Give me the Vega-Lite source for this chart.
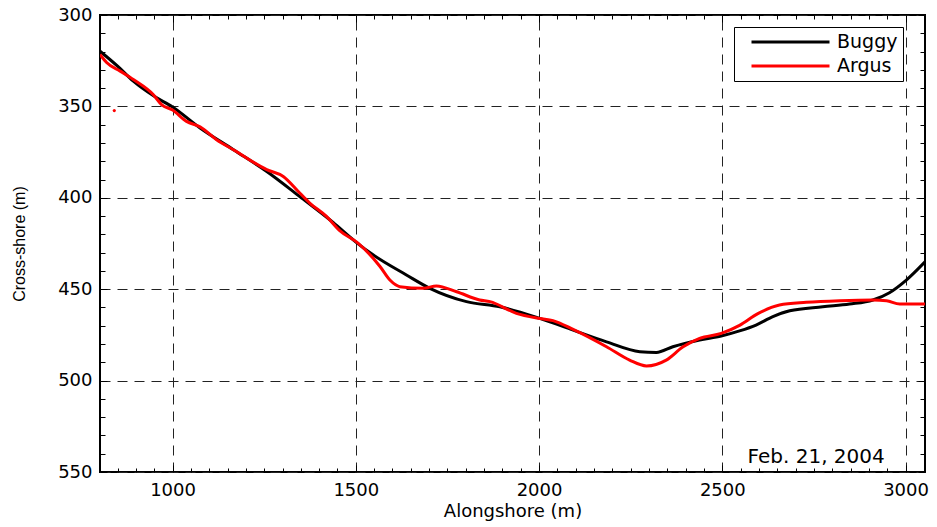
{
  "$schema": "https://vega.github.io/schema/vega-lite/v6.json",
  "width": 825,
  "height": 457,
  "autosize": {"type": "none"},
  "padding": {"left": 100, "top": 15, "right": 12, "bottom": 55},
  "config": {
    "view": {"stroke": "black", "strokeWidth": 2},
    "font": "DejaVu Sans",
    "axis": {"domain": false, "labelColor": "black", "titleColor": "black", "labelFont": "DejaVu Sans", "titleFont": "DejaVu Sans", "titleFontWeight": "normal", "tickColor": "black"}
  },
  "datasets": {
    "lines": [
      {"series": "Buggy", "x": 802, "y": 319.8},
      {"series": "Buggy", "x": 850, "y": 328},
      {"series": "Buggy", "x": 893, "y": 336.2},
      {"series": "Buggy", "x": 950, "y": 344.5},
      {"series": "Buggy", "x": 1000, "y": 350.3},
      {"series": "Buggy", "x": 1075, "y": 361.8},
      {"series": "Buggy", "x": 1166, "y": 373.7},
      {"series": "Buggy", "x": 1257, "y": 385.6},
      {"series": "Buggy", "x": 1347, "y": 399.3},
      {"series": "Buggy", "x": 1438, "y": 413.5},
      {"series": "Buggy", "x": 1502, "y": 424.5},
      {"series": "Buggy", "x": 1547, "y": 431.2},
      {"series": "Buggy", "x": 1638, "y": 442.2},
      {"series": "Buggy", "x": 1702, "y": 449.5},
      {"series": "Buggy", "x": 1802, "y": 456.8},
      {"series": "Buggy", "x": 1893, "y": 459.6},
      {"series": "Buggy", "x": 2002, "y": 466},
      {"series": "Buggy", "x": 2093, "y": 472.4},
      {"series": "Buggy", "x": 2184, "y": 478.8},
      {"series": "Buggy", "x": 2275, "y": 484.2},
      {"series": "Buggy", "x": 2320, "y": 484.6},
      {"series": "Buggy", "x": 2365, "y": 481.5},
      {"series": "Buggy", "x": 2438, "y": 477.8},
      {"series": "Buggy", "x": 2497, "y": 475.6},
      {"series": "Buggy", "x": 2547, "y": 472.8},
      {"series": "Buggy", "x": 2592, "y": 469.6},
      {"series": "Buggy", "x": 2638, "y": 465},
      {"series": "Buggy", "x": 2684, "y": 461.8},
      {"series": "Buggy", "x": 2774, "y": 459.6},
      {"series": "Buggy", "x": 2847, "y": 458.1},
      {"series": "Buggy", "x": 2911, "y": 455.9},
      {"series": "Buggy", "x": 2956, "y": 451.9},
      {"series": "Buggy", "x": 3002, "y": 445},
      {"series": "Buggy", "x": 3053, "y": 435},
      {"series": "Argus", "x": 802, "y": 321.6},
      {"series": "Argus", "x": 820, "y": 326},
      {"series": "Argus", "x": 857, "y": 330.7},
      {"series": "Argus", "x": 893, "y": 335.3},
      {"series": "Argus", "x": 947, "y": 343.5},
      {"series": "Argus", "x": 970, "y": 349},
      {"series": "Argus", "x": 1000, "y": 352},
      {"series": "Argus", "x": 1038, "y": 358.2},
      {"series": "Argus", "x": 1075, "y": 361.2},
      {"series": "Argus", "x": 1120, "y": 368.2},
      {"series": "Argus", "x": 1166, "y": 373.7},
      {"series": "Argus", "x": 1257, "y": 384.6},
      {"series": "Argus", "x": 1302, "y": 388.3},
      {"series": "Argus", "x": 1347, "y": 397.4},
      {"series": "Argus", "x": 1375, "y": 403},
      {"series": "Argus", "x": 1420, "y": 410.2},
      {"series": "Argus", "x": 1456, "y": 418},
      {"series": "Argus", "x": 1506, "y": 424.8},
      {"series": "Argus", "x": 1566, "y": 437.6},
      {"series": "Argus", "x": 1593, "y": 445},
      {"series": "Argus", "x": 1620, "y": 448.6},
      {"series": "Argus", "x": 1684, "y": 449.5},
      {"series": "Argus", "x": 1720, "y": 448.2},
      {"series": "Argus", "x": 1775, "y": 451.4},
      {"series": "Argus", "x": 1838, "y": 455.9},
      {"series": "Argus", "x": 1866, "y": 456.8},
      {"series": "Argus", "x": 1938, "y": 463.2},
      {"series": "Argus", "x": 2002, "y": 466},
      {"series": "Argus", "x": 2038, "y": 467.2},
      {"series": "Argus", "x": 2093, "y": 472},
      {"series": "Argus", "x": 2184, "y": 481.5},
      {"series": "Argus", "x": 2247, "y": 488.8},
      {"series": "Argus", "x": 2293, "y": 492},
      {"series": "Argus", "x": 2347, "y": 488.8},
      {"series": "Argus", "x": 2393, "y": 481.5},
      {"series": "Argus", "x": 2438, "y": 476.9},
      {"series": "Argus", "x": 2497, "y": 474.2},
      {"series": "Argus", "x": 2547, "y": 469.8},
      {"series": "Argus", "x": 2597, "y": 463.4},
      {"series": "Argus", "x": 2656, "y": 458.6},
      {"series": "Argus", "x": 2729, "y": 457.2},
      {"series": "Argus", "x": 2820, "y": 456.3},
      {"series": "Argus", "x": 2911, "y": 455.9},
      {"series": "Argus", "x": 2948, "y": 456.3},
      {"series": "Argus", "x": 2984, "y": 458.1},
      {"series": "Argus", "x": 3053, "y": 458.1}
    ],
    "dot": [{"x": 841, "y": 352.3}],
    "note": [{"x": 2756, "y": 545, "label": "Feb. 21, 2004"}]
  },
  "layer": [
    {
      "data": {"name": "lines"},
      "mark": {"type": "line", "strokeWidth": 3, "clip": true, "interpolate": "monotone"},
      "encoding": {
        "x": {"field": "x", "type": "quantitative",
          "scale": {"domain": [802, 3053], "nice": false, "zero": false},
          "axis": {"orient": "bottom", "values": [1000, 1500, 2000, 2500, 3000], "format": "d", "ticks": false, "grid": true, "gridDash": [10, 7], "gridColor": "#222", "gridOpacity": 1, "gridWidth": 1, "labelFontSize": 18, "labelPadding": 9, "title": "Alongshore (m)", "titleFontSize": 18, "titlePadding": 3}},
        "y": {"field": "y", "type": "quantitative",
          "scale": {"domain": [300, 550], "reverse": true, "nice": false, "zero": false},
          "axis": {"orient": "left", "values": [300, 350, 400, 450, 500, 550], "format": "d", "ticks": false, "grid": true, "gridDash": [10, 7], "gridColor": "#222", "gridOpacity": 1, "gridWidth": 1, "labelFontSize": 18, "labelPadding": 8, "title": "Cross-shore (m)", "titleFont": "Liberation Sans", "titleFontSize": 16, "titlePadding": 30}},
        "color": {"field": "series", "type": "nominal",
          "scale": {"domain": ["Buggy", "Argus"], "range": ["black", "#ff0000"]},
          "legend": {"orient": "none", "legendX": 634, "legendY": 12, "title": null, "symbolType": "stroke", "symbolSize": 6084, "symbolStrokeWidth": 3, "clipHeight": 20, "rowPadding": 4, "padding": 5, "symbolOffset": 11, "labelOffset": 6, "labelFontSize": 19, "labelFont": "DejaVu Sans", "labelColor": "black", "strokeColor": "black", "fillColor": "white", "labelExpr": "datum.label + '    '"}}
      }
    },
    {
      "data": {"name": "dot"},
      "mark": {"type": "point", "filled": true, "color": "#ff0000", "size": 10, "opacity": 1},
      "encoding": {
        "x": {"field": "x", "type": "quantitative", "axis": {"orient": "bottom", "values": [1000, 1500, 2000, 2500, 3000], "labels": false, "grid": false, "ticks": true, "tickSize": -7, "title": null}},
        "y": {"field": "y", "type": "quantitative", "axis": {"orient": "left", "values": [300, 350, 400, 450, 500, 550], "labels": false, "grid": false, "ticks": true, "tickSize": -7, "title": null}}
      }
    },
    {
      "data": {"name": "note"},
      "mark": {"type": "text", "fontSize": 20, "font": "DejaVu Sans", "align": "center", "baseline": "alphabetic", "color": "black"},
      "encoding": {
        "x": {"field": "x", "type": "quantitative", "axis": {"orient": "bottom", "values": [850, 900, 950, 1050, 1100, 1150, 1200, 1250, 1300, 1350, 1400, 1450, 1550, 1600, 1650, 1700, 1750, 1800, 1850, 1900, 1950, 2050, 2100, 2150, 2200, 2250, 2300, 2350, 2400, 2450, 2550, 2600, 2650, 2700, 2750, 2800, 2850, 2900, 2950, 3050], "labels": false, "grid": false, "ticks": true, "tickSize": -4, "title": null}},
        "y": {"field": "y", "type": "quantitative", "axis": {"orient": "left", "values": [310, 320, 330, 340, 360, 370, 380, 390, 410, 420, 430, 440, 460, 470, 480, 490, 510, 520, 530, 540], "labels": false, "grid": false, "ticks": true, "tickSize": -5, "title": null}},
        "text": {"field": "label"}
      }
    },
    {
      "data": {"name": "dot"},
      "mark": {"type": "point", "opacity": 0},
      "encoding": {
        "x": {"field": "x", "type": "quantitative", "axis": {"orient": "top", "values": [1000, 1500, 2000, 2500, 3000], "labels": false, "grid": false, "ticks": true, "tickSize": -7, "title": null}},
        "y": {"field": "y", "type": "quantitative", "axis": {"orient": "right", "values": [300, 350, 400, 450, 500, 550], "labels": false, "grid": false, "ticks": true, "tickSize": -7, "title": null}}
      }
    },
    {
      "data": {"name": "dot"},
      "mark": {"type": "point", "opacity": 0},
      "encoding": {
        "x": {"field": "x", "type": "quantitative", "axis": {"orient": "top", "values": [850, 900, 950, 1050, 1100, 1150, 1200, 1250, 1300, 1350, 1400, 1450, 1550, 1600, 1650, 1700, 1750, 1800, 1850, 1900, 1950, 2050, 2100, 2150, 2200, 2250, 2300, 2350, 2400, 2450, 2550, 2600, 2650, 2700, 2750, 2800, 2850, 2900, 2950, 3050], "labels": false, "grid": false, "ticks": true, "tickSize": -4, "title": null}},
        "y": {"field": "y", "type": "quantitative", "axis": {"orient": "right", "values": [310, 320, 330, 340, 360, 370, 380, 390, 410, 420, 430, 440, 460, 470, 480, 490, 510, 520, 530, 540], "labels": false, "grid": false, "ticks": true, "tickSize": -5, "title": null}}
      }
    }
  ],
  "resolve": {"axis": {"x": "independent", "y": "independent"}}
}
